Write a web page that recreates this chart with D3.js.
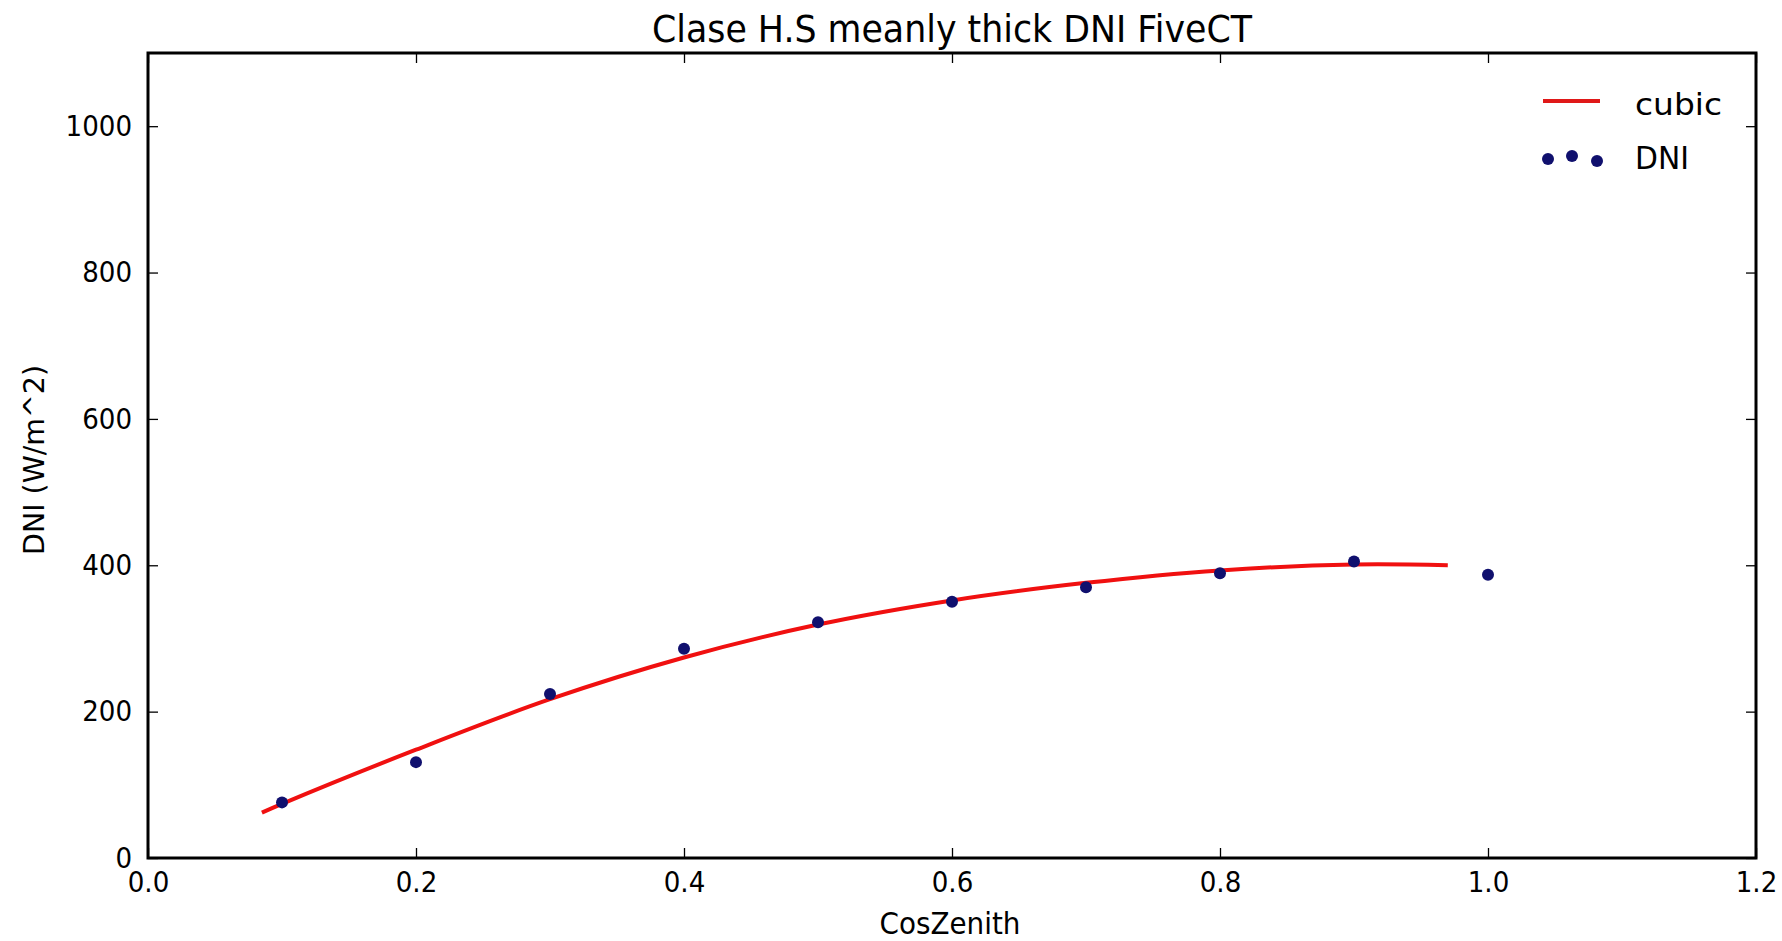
<!DOCTYPE html>
<html><head><meta charset="utf-8">
<script src="https://cdn.jsdelivr.net/npm/d3@7"></script>
<style>body{margin:0;background:#fff}svg{display:block}text{font-family:"DejaVu Sans",sans-serif;fill:#000}</style>
</head><body>
<svg id="c" width="1782" height="941"></svg>
<script>
const title = "Clase H.S meanly thick DNI FiveCT";
const xLabel = "CosZenith";
const yLabel = "DNI (W/m^2)";
const xTicks = [0.0, 0.2, 0.4, 0.6, 0.8, 1.0, 1.2];
const yTicks = [0, 200, 400, 600, 800, 1000];
const dniX = [0.1, 0.2, 0.3, 0.4, 0.5, 0.6, 0.7, 0.8, 0.9, 1.0];
const dniY = [76, 131, 224, 286, 322, 350, 370, 389, 405, 387];
const cubicX = [0.085, 0.1, 0.2, 0.3, 0.4, 0.5, 0.6, 0.7, 0.8, 0.9, 0.97];
const cubicY = [62, 74, 148, 217, 274, 319, 352, 376, 393, 401, 400];

const svg = d3.select("#c");
const L = 148, R = 1756, T = 53, B = 858;
const x = d3.scaleLinear().domain([0, 1.2]).range([L, R]);
const y = d3.scaleLinear().domain([0, 1100]).range([B, T]);

function squeeze(sel, f) {
  sel.each(function () { const w = this.getComputedTextLength(); d3.select(this).attr("textLength", w * f).attr("lengthAdjust", "spacingAndGlyphs"); });
}
function fitW(sel, w) { sel.attr("textLength", w).attr("lengthAdjust", "spacingAndGlyphs"); }

// data
const line = d3.line().x(d => x(d[0])).y(d => y(d[1])).curve(d3.curveCatmullRom);
svg.append("path").datum(cubicX.map((v, i) => [v, cubicY[i]]))
  .attr("d", line).attr("fill", "none").attr("stroke", "#f01010").attr("stroke-width", 4);
svg.append("g").selectAll("circle").data(dniX.map((v, i) => [v, dniY[i]])).join("circle")
  .attr("cx", d => x(d[0])).attr("cy", d => y(d[1])).attr("r", 6).attr("fill", "#10106e");

// axes
const tl = 10;
const xb = d3.axisBottom(x).tickValues(xTicks).tickSizeInner(-tl).tickSizeOuter(0).tickPadding(13).tickFormat(d3.format(".1f"));
const xt = d3.axisTop(x).tickValues(xTicks).tickSizeInner(-tl).tickSizeOuter(0).tickFormat("");
const yl = d3.axisLeft(y).tickValues(yTicks).tickSizeInner(-tl).tickSizeOuter(0).tickPadding(16).tickFormat(d3.format("d"));
const yr = d3.axisRight(y).tickValues(yTicks).tickSizeInner(-tl).tickSizeOuter(0).tickFormat("");
function style(g){ g.select(".domain").remove(); g.selectAll("line").attr("stroke","#000").attr("stroke-width",1.3); g.selectAll("text").attr("font-size",29).attr("font-family","DejaVu Sans").call(squeeze, 0.9); }
svg.append("g").attr("transform", `translate(0,${B})`).call(xb).call(style);
svg.append("g").attr("transform", `translate(0,${T})`).call(xt).call(style);
svg.append("g").attr("transform", `translate(${L},0)`).call(yl).call(style);
svg.append("g").attr("transform", `translate(${R},0)`).call(yr).call(style);
svg.append("rect").attr("x", L).attr("y", T).attr("width", R - L).attr("height", B - T)
  .attr("fill", "none").attr("stroke", "#000").attr("stroke-width", 3);

// labels
svg.append("text").attr("x", (L + R) / 2).attr("y", 42).attr("text-anchor", "middle").attr("font-size", 37).text(title).call(fitW, 600);
svg.append("text").attr("x", 950).attr("y", 934).attr("text-anchor", "middle").attr("font-size", 30).text(xLabel).call(fitW, 141);
svg.append("text").attr("transform", `translate(44,460) rotate(-90)`).attr("text-anchor", "middle").attr("font-size", 29).text(yLabel).call(fitW, 190);

// legend
const lg = svg.append("g");
lg.append("line").attr("x1", 1543).attr("x2", 1600).attr("y1", 101).attr("y2", 101).attr("stroke", "#e01818").attr("stroke-width", 4);
lg.append("text").attr("x", 1635).attr("y", 115).attr("font-size", 31).text("cubic").call(fitW, 87);
lg.selectAll("circle").data([[1548, 159], [1572, 156], [1597, 161]]).join("circle")
  .attr("cx", d => d[0]).attr("cy", d => d[1]).attr("r", 6).attr("fill", "#10106e");
lg.append("text").attr("x", 1635).attr("y", 169).attr("font-size", 32).text("DNI").call(fitW, 54);
</script>
</body></html>
